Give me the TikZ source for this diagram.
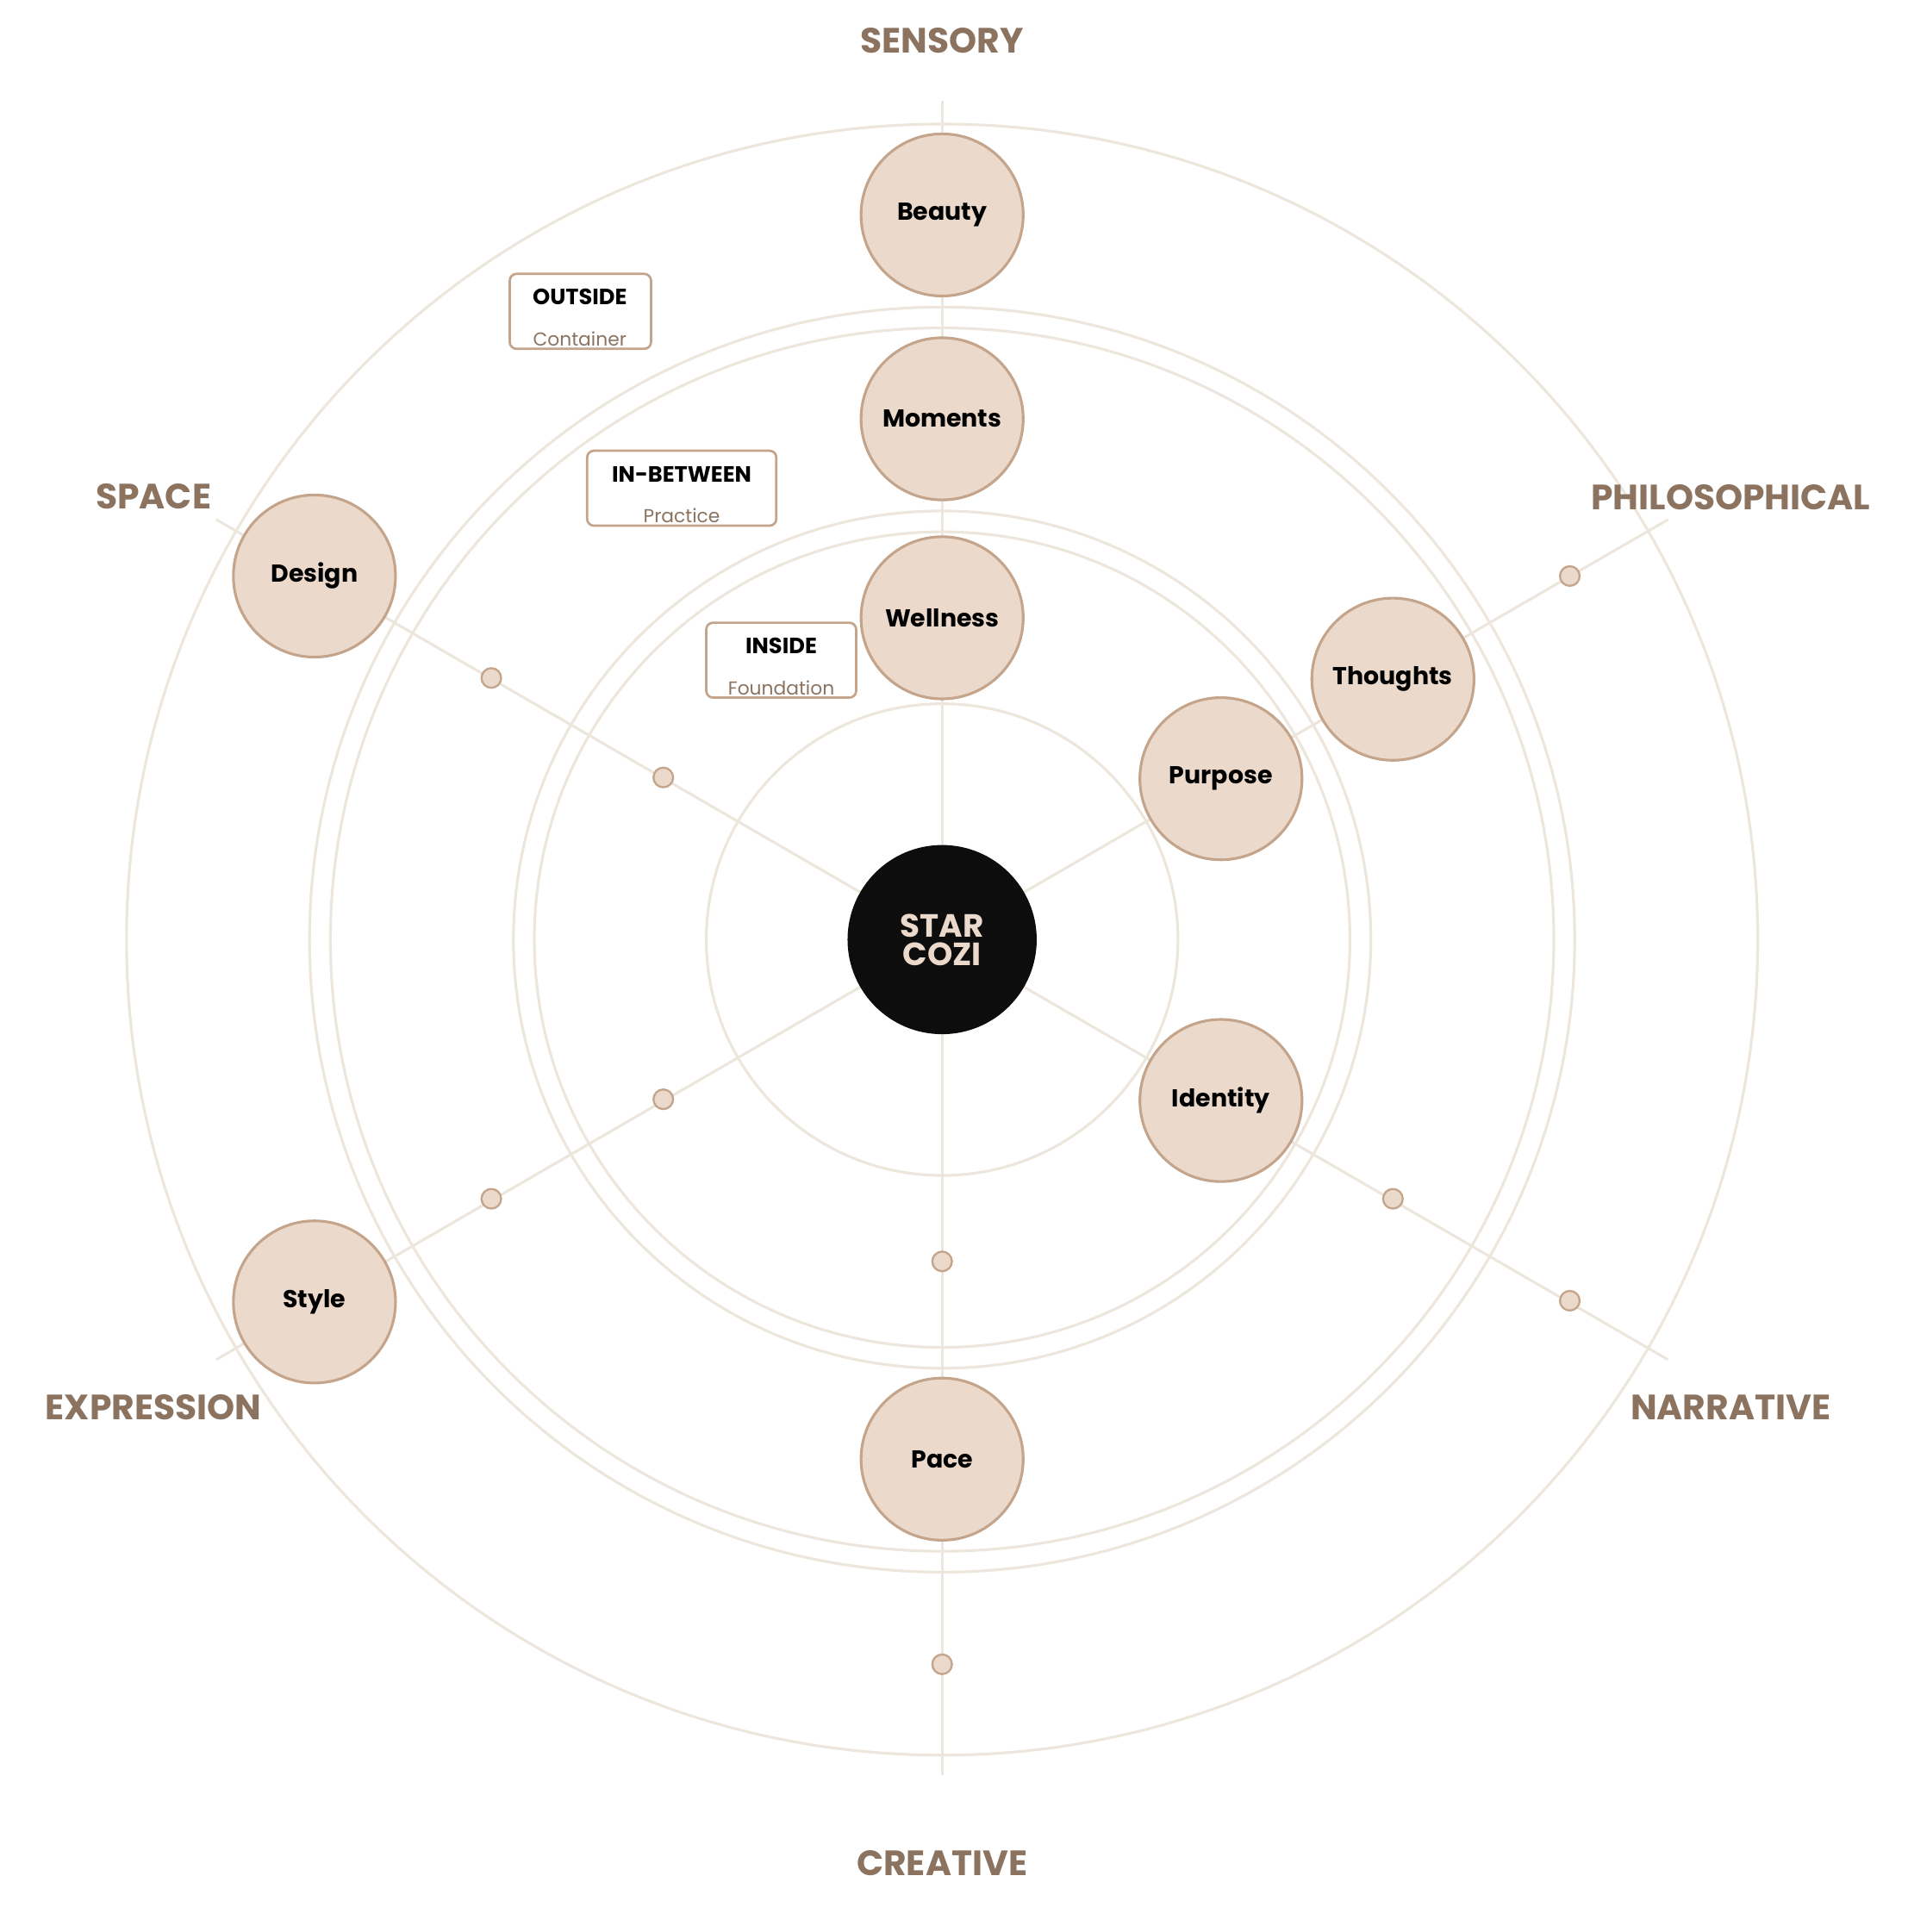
\documentclass[tikz,border=0pt]{standalone}
\usepackage{fontspec}
\setmainfont{Poppins}
\begin{document}
\definecolor{ring}{HTML}{ECE6DC}
\definecolor{tan}{HTML}{C4A48A}
\definecolor{fillc}{HTML}{EBDACC}
\definecolor{lab}{HTML}{8B7360}
\begin{tikzpicture}[x=0.01288cm,y=-0.01288cm,
  ringl/.style={draw=ring,line width=0.8pt},
  spoke/.style={draw=ring,line width=0.8pt},
  nd/.style={circle,draw=tan,fill=fillc,line width=0.8pt,minimum size=132*0.01288cm,inner sep=0pt,font=\fontsize{7.3}{8}\selectfont\bfseries,text=black},
  dot/.style={circle,draw=tan,fill=fillc,line width=0.6pt,minimum size=16*0.01288cm,inner sep=0pt},
  lbl/.style={font=\fontsize{10.5}{12}\selectfont\bfseries,text=lab},
  bx/.style={draw=tan,rounded corners=2pt,line width=0.7pt,fill=white}]
\useasboundingbox (0,0) rectangle (1553,1573);
\coordinate (c) at (767,765);
\foreach \r in {192,332,349,498,515,664} \draw[ringl] (c) circle (\r);
\coordinate (s1) at (767,82); \coordinate (s2) at (767,1445);
\coordinate (s3) at (176,423); \coordinate (s4) at (1358,1107);
\coordinate (s5) at (176,1107); \coordinate (s6) at (1358,423);
\foreach \s in {s1,s2,s3,s4,s5,s6} \draw[spoke] (c) -- (\s);
\node[nd] (beauty) at (767,175) {Beauty};
\node[nd] (moments) at (767,341) {Moments};
\node[nd] (wellness) at (767,503) {Wellness};
\node[nd] (design) at (256,469) {Design};
\node[nd] (thoughts) at (1134,553) {Thoughts};
\node[nd] (purpose) at (994,634) {Purpose};
\node[nd] (identity) at (994,896) {Identity};
\node[nd] (style) at (256,1060) {Style};
\node[nd] (pace) at (767,1188) {Pace};
\foreach \n/\p in {d1/{(400,552)},d2/{(540,633)},d3/{(540,895)},d4/{(400,976)},d5/{(767,1027)},d6/{(767,1355)},d7/{(1134,976)},d8/{(1278,1059)},d9/{(1278,469)}}
  \node[dot] (\n) at \p {};
\node[circle,fill=black!95,minimum size=154*0.01288cm,inner sep=0pt,text=fillc,font=\fontsize{9.6}{8.5}\selectfont\bfseries,align=center] (star) at (c) {STAR\\COZI};
\node[lbl] (l1) at (767,33) {SENSORY};
\node[lbl] (l2) at (767,1517) {CREATIVE};
\node[lbl] (l3) at (125,404) {SPACE};
\node[lbl] (l4) at (1409,405) {PHILOSOPHICAL};
\node[lbl] (l5) at (125,1146) {EXPRESSION};
\node[lbl] (l6) at (1409,1146) {NARRATIVE};
\draw[bx] (415,223) rectangle (530,284);
\node[font=\fontsize{6.6}{8}\selectfont\bfseries] (t1) at (472,242) {OUTSIDE};
\node[font=\fontsize{5.6}{7}\selectfont,text=lab] (u1) at (472,276) {Container};
\draw[bx] (478,367) rectangle (632,428);
\node[font=\fontsize{6.6}{8}\selectfont\bfseries] (t2) at (555,386) {IN-BETWEEN};
\node[font=\fontsize{5.6}{7}\selectfont,text=lab] (u2) at (555,420) {Practice};
\draw[bx] (575,507) rectangle (697,568);
\node[font=\fontsize{6.6}{8}\selectfont\bfseries] (t3) at (636,526) {INSIDE};
\node[font=\fontsize{5.6}{7}\selectfont,text=lab] (u3) at (636,560) {Foundation};
\end{tikzpicture}
\end{document}
